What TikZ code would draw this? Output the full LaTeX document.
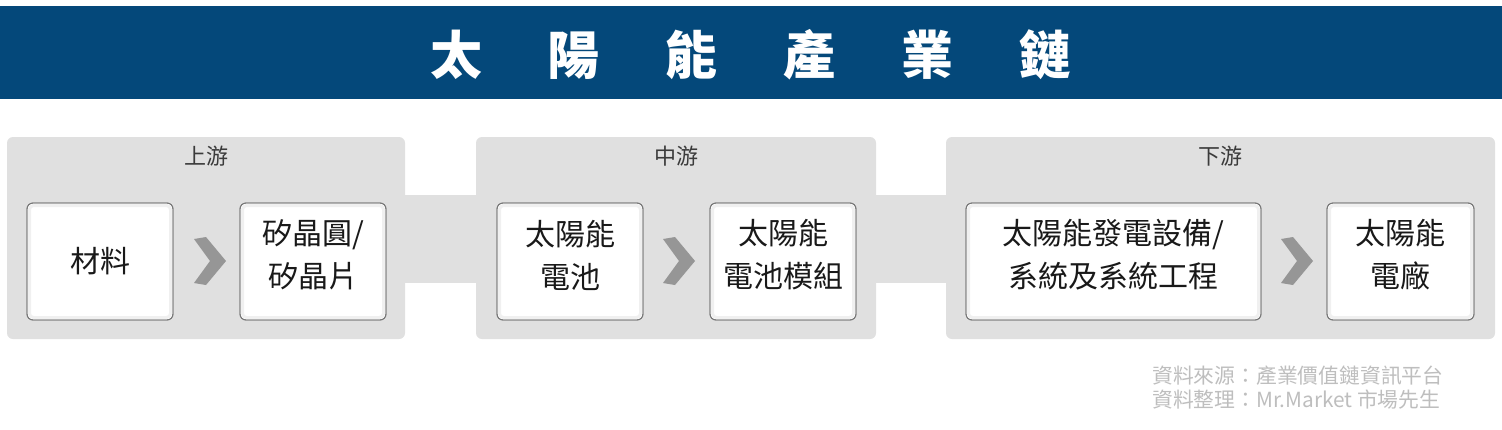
\documentclass[tikz,border=0pt]{standalone}
\usepackage{fontspec}
\setmainfont{Noto Sans CJK TC}
\definecolor{banner}{RGB}{4,72,122}
\definecolor{panel}{RGB}{224,224,224}
\definecolor{boxline}{RGB}{120,120,120}
\definecolor{chev}{RGB}{150,150,150}
\definecolor{txt}{RGB}{25,25,25}
\definecolor{foot}{RGB}{190,190,190}
\begin{document}
\begin{tikzpicture}[x=1pt,y=-1pt,
  panelbox/.style={fill=panel,rounded corners=6pt},
  stagebox/.style={draw=boxline,line width=0.9pt,fill=white,rounded corners=6pt},
  boxtext/.style={font=\fontsize{30}{43}\selectfont,text=txt,align=center,inner sep=0pt},
  headtext/.style={font=\fontsize{22}{24}\selectfont,text=txt!85,inner sep=0pt},
  chevron/.style={fill=chev}]
\useasboundingbox (0,0) rectangle (1502,429);
\fill[white] (0,0) rectangle (1502,429);
% banner
\fill[banner] (0,6) rectangle (1502,99);
\node[text=white,inner sep=0pt,font=\fontsize{52}{52}\bfseries\selectfont] (title) at (751,55)
  {太\hspace{66pt}陽\hspace{66pt}能\hspace{66pt}產\hspace{66pt}業\hspace{66pt}鏈};
% connecting bands
\fill[panel] (400,195) rectangle (482,283);
\fill[panel] (870,195) rectangle (952,283);
% panels
\fill[panelbox] (7,137) rectangle (405,339);
\fill[panelbox] (476,137) rectangle (876,339);
\fill[panelbox] (946,137) rectangle (1495,339);
\node[headtext] (h1) at (206,156) {上游};
\node[headtext] (h2) at (676,156) {中游};
\node[headtext] (h3) at (1220,156) {下游};
% boxes
\foreach \n/\a/\b in {b1/27/173, b2/240/386, b3/497/643, b4/710/856, b5/966/1261, b6/1327/1474}{
  \draw[stagebox] (\a,203) rectangle (\b,320);
  \draw[black!6,line width=3pt,rounded corners=4pt] (\a+2.5,205.5) rectangle (\b-2.5,317.5);
  \draw[boxline,line width=0.9pt,rounded corners=6pt] (\a,203) rectangle (\b,320);
  \coordinate (\n) at ({(\a+\b)/2},261.5);
  \coordinate (\n u) at ({(\a+\b)/2},255);
}
\node[boxtext] (t1) at (b1) {材料};
\node[boxtext] (t2) at (b2u) {矽晶圓/\\矽晶片};
\node[boxtext] (t3) at (b3u) {太陽能\\電池};
\node[boxtext] (t4) at (b4u) {太陽能\\電池模組};
\node[boxtext] (t5) at (b5u) {太陽能發電設備/\\系統及系統工程};
\node[boxtext] (t6) at (b6u) {太陽能\\電廠};
% chevrons
\foreach \c in {209,678,1296}{
  \fill[chevron] (\c-15,239) -- (\c-3,237) -- (\c+17,261) -- (\c-3,285) -- (\c-15,283) -- (\c+1,261) -- cycle;
}
% footer
\node[anchor=north west,align=left,inner sep=0pt,text=foot,font=\fontsize{20.8}{24}\selectfont] (src) at (1152,366)
  {資料來源：產業價值鏈資訊平台\\資料整理：Mr.Market 市場先生};
\end{tikzpicture}
\end{document}
